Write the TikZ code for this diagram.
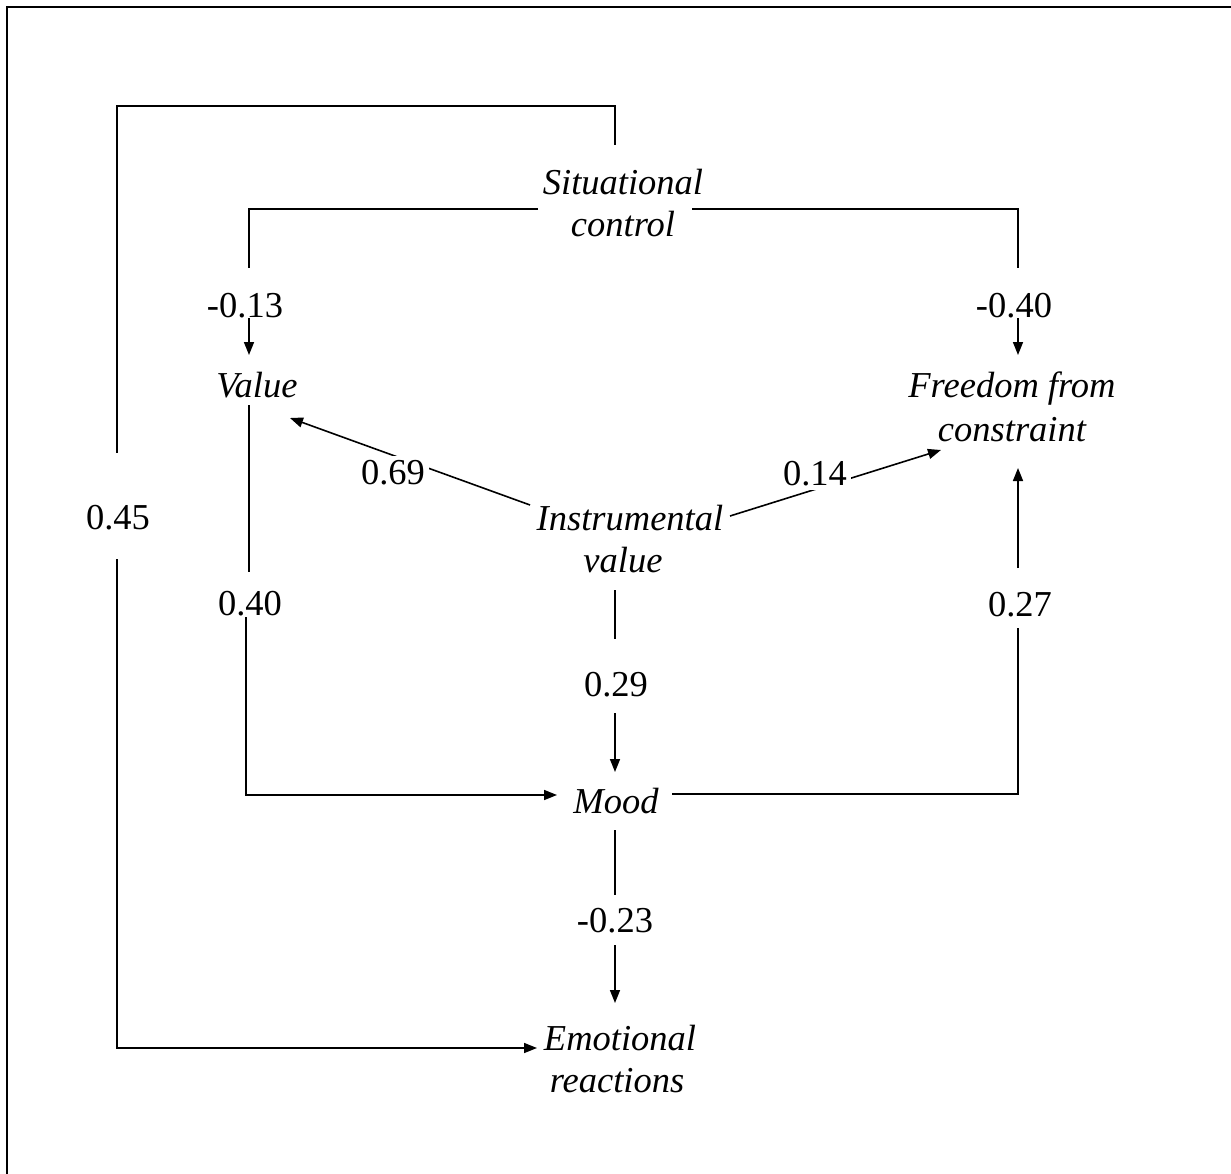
\documentclass[tikz,border=0pt]{standalone}
\usepackage{fontspec}
\setmainfont{Liberation Serif}
\usetikzlibrary{arrows.meta}
\begin{document}
\begin{tikzpicture}[x=1pt,y=-1pt,
  line/.style={line width=1.6pt},
  arr/.style={line, -{Triangle[length=13pt,width=10pt]}},
  var/.style={font=\fontsize{36.5}{42}\selectfont\itshape, anchor=base, inner sep=0pt},
  coef/.style={font=\fontsize{36.5}{42}\selectfont, anchor=base, inner sep=0pt},
  gapcoef/.style={coef, fill=white, inner sep=4pt}
]
\useasboundingbox (0,0) rectangle (1231,1174);
% outer frame
\draw[line width=2.6pt] (7,1180) -- (7,7) -- (1240,7);

% variables
\node[var] (sit1) at (623,195) {Situational};
\node[var] (sit2) at (623,237) {control};
\node[var] (val) at (257,397) {Value};
\node[var] (free1) at (1012,397) {Freedom from};
\node[var] (free2) at (1012,441) {constraint};
\node[var] (ins1) at (630,530) {Instrumental};
\node[var] (ins2) at (623,572) {value};
\node[var] (mood) at (616,813) {Mood};
\node[var] (emo1) at (620,1050) {Emotional};
\node[var] (emo2) at (617,1092) {reactions};

% path coefficients
\node[coef] (c045) at (118,529) {0.45};
\node[coef] (c013) at (245,317) {-0.13};
\node[coef] (c040a) at (1014,317) {-0.40};
\node[coef] (c040b) at (250,615) {0.40};
\node[coef] (c027) at (1020,616) {0.27};
\node[coef] (c029) at (616,696) {0.29};
\node[coef] (c023) at (615,932) {-0.23};

% connector ends and corners
\coordinate (sitTop) at (615,145);
\coordinate (loopTL) at (117,106);
\coordinate (loopA) at (117,453);
\coordinate (loopB) at (117,559);
\coordinate (loopBL) at (117,1048);
\coordinate (emoIn) at (537,1048);

\coordinate (sitL) at (538,209);
\coordinate (sitR) at (692,209);
\coordinate (valDrop) at (249,268);
\coordinate (freeDrop) at (1018,268);
\coordinate (valArrS) at (249,318);
\coordinate (valArrE) at (249,355);
\coordinate (freeArrS) at (1018,318);
\coordinate (freeArrE) at (1018,355);

\coordinate (valBot) at (249,405);
\coordinate (valBotE) at (249,572);
\coordinate (valLow) at (246,617);
\coordinate (valCorner) at (246,795);
\coordinate (moodInL) at (557,795);

\coordinate (insL) at (530,505);
\coordinate (valIn) at (290,418);
\coordinate (insR) at (730,516);
\coordinate (freeIn) at (941,450);

\coordinate (insBot) at (615,590);
\coordinate (insBotE) at (615,639);
\coordinate (moodArrS) at (615,713);
\coordinate (moodArrE) at (615,772);

\coordinate (moodR) at (672,794);
\coordinate (freeUp) at (1018,628);
\coordinate (freeArr2S) at (1018,568);
\coordinate (freeArr2E) at (1018,468);

\coordinate (moodBot) at (615,830);
\coordinate (moodBotE) at (615,895);
\coordinate (emoArrS) at (615,945);
\coordinate (emoArrE) at (615,1003);

% Situational control -> Emotional reactions (outer loop)
\draw[line] (sitTop) |- (loopTL) -- (loopA);
\draw[arr] (loopB) -- (loopBL) -- (emoIn);

% Situational control -> Value / Freedom from constraint
\draw[line] (sitL) -| (valDrop);
\draw[line] (sitR) -| (freeDrop);
\draw[arr] (valArrS) -- (valArrE);
\draw[arr] (freeArrS) -- (freeArrE);

% Value -> Mood
\draw[line] (valBot) -- (valBotE);
\draw[arr] (valLow) -- (valCorner) -- (moodInL);

% Instrumental value -> Value / Freedom from constraint
\draw[arr] (insL) -- (valIn);
\draw[arr] (insR) -- (freeIn);
\node[gapcoef] (c069) at (393,484) {0.69};
\node[gapcoef] (c014) at (815,485) {0.14};

% Instrumental value -> Mood
\draw[line] (insBot) -- (insBotE);
\draw[arr] (moodArrS) -- (moodArrE);

% Mood -> Freedom from constraint
\draw[line] (moodR) -| (freeUp);
\draw[arr] (freeArr2S) -- (freeArr2E);

% Mood -> Emotional reactions
\draw[line] (moodBot) -- (moodBotE);
\draw[arr] (emoArrS) -- (emoArrE);
\end{tikzpicture}
\end{document}
